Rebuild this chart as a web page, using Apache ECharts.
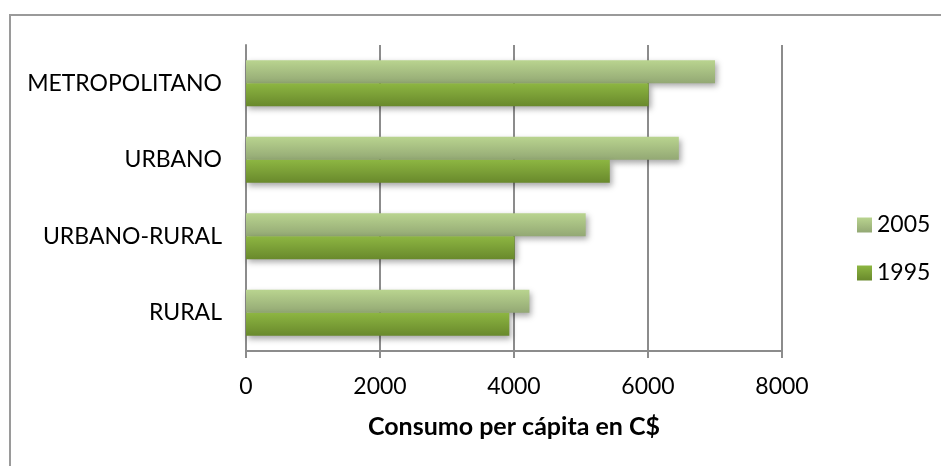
<!DOCTYPE html>
<html>
<head>
<meta charset="utf-8">
<script src="https://cdn.jsdelivr.net/npm/echarts@6/dist/echarts.min.js"></script>
<style>
  html, body { margin: 0; padding: 0; background: #fff; }
  #main { width: 941px; height: 466px; }
</style>
</head>
<body>
<div id="main"></div>
<script>
// datos
const categorias = ['METROPOLITANO', 'URBANO', 'URBANO-RURAL', 'RURAL'];
const serie2005 = [7000, 6460, 5070, 4230];
const serie1995 = [6010, 5430, 4010, 3930];
const ticksX = [0, 2000, 4000, 6000, 8000];

const fuente = 'Lato';

function degradado (arriba, abajo) {
  return new echarts.graphic.LinearGradient(0, 0, 0, 1, [
    { offset: 0, color: arriba },
    { offset: 1, color: abajo }
  ]);
}

const chart = echarts.init(document.getElementById('main'));
chart.setOption({
  animation: false,
  backgroundColor: '#fff',
  textStyle: { fontFamily: fuente },
  graphic: [{
    type: 'rect',
    shape: { x: 10, y: 15, width: 2000, height: 2000 },
    style: { fill: 'none', stroke: '#9a9a9a', lineWidth: 2 },
    silent: true
  }],
  grid: { left: 246, right: 159, top: 45, bottom: 115 },
  legend: {
    orient: 'vertical',
    left: 852,
    top: 205,
    itemWidth: 15,
    itemHeight: 15,
    itemGap: 18,
    icon: 'rect',
    textStyle: { fontFamily: fuente, fontSize: 23, color: '#000', lineHeight: 30 },
    data: ['2005', '1995']
  },
  xAxis: {
    type: 'value',
    min: ticksX[0],
    max: ticksX[ticksX.length - 1],
    interval: 2000,
    name: 'Consumo per cápita en C$',
    nameLocation: 'middle',
    nameGap: 63,
    nameTextStyle: { fontFamily: fuente, fontSize: 25, fontWeight: 'bold', color: '#000' },
    axisLine: { show: true, lineStyle: { color: '#8c8c8c', width: 2 } },
    axisTick: { show: true, length: 7, lineStyle: { color: '#8c8c8c', width: 2 } },
    axisLabel: {
      fontFamily: fuente, fontSize: 23, color: '#000', margin: 24,
      formatter: v => String(v)
    },
    splitLine: { show: true, lineStyle: { color: '#8c8c8c', width: 2 } }
  },
  yAxis: {
    type: 'category',
    inverse: true,
    data: categorias,
    axisLine: { show: true, lineStyle: { color: '#8c8c8c', width: 2 } },
    axisTick: { show: false },
    axisLabel: { fontFamily: fuente, fontSize: 23, color: '#000', margin: 24 }
  },
  series: [
    {
      name: '2005',
      type: 'bar',
      data: serie2005,
      barGap: '0%',
      barCategoryGap: '40%',
      itemStyle: {
        color: degradado('#b9d48f', '#93a874'),
        shadowColor: 'rgba(0,0,0,0.35)',
        shadowBlur: 6,
        shadowOffsetX: 2,
        shadowOffsetY: 3
      }
    },
    {
      name: '1995',
      type: 'bar',
      data: serie1995,
      barGap: '0%',
      barCategoryGap: '40%',
      itemStyle: {
        color: degradado('#8db642', '#69892c'),
        shadowColor: 'rgba(0,0,0,0.35)',
        shadowBlur: 6,
        shadowOffsetX: 2,
        shadowOffsetY: 3
      }
    }
  ]
});
</script>
</body>
</html>
